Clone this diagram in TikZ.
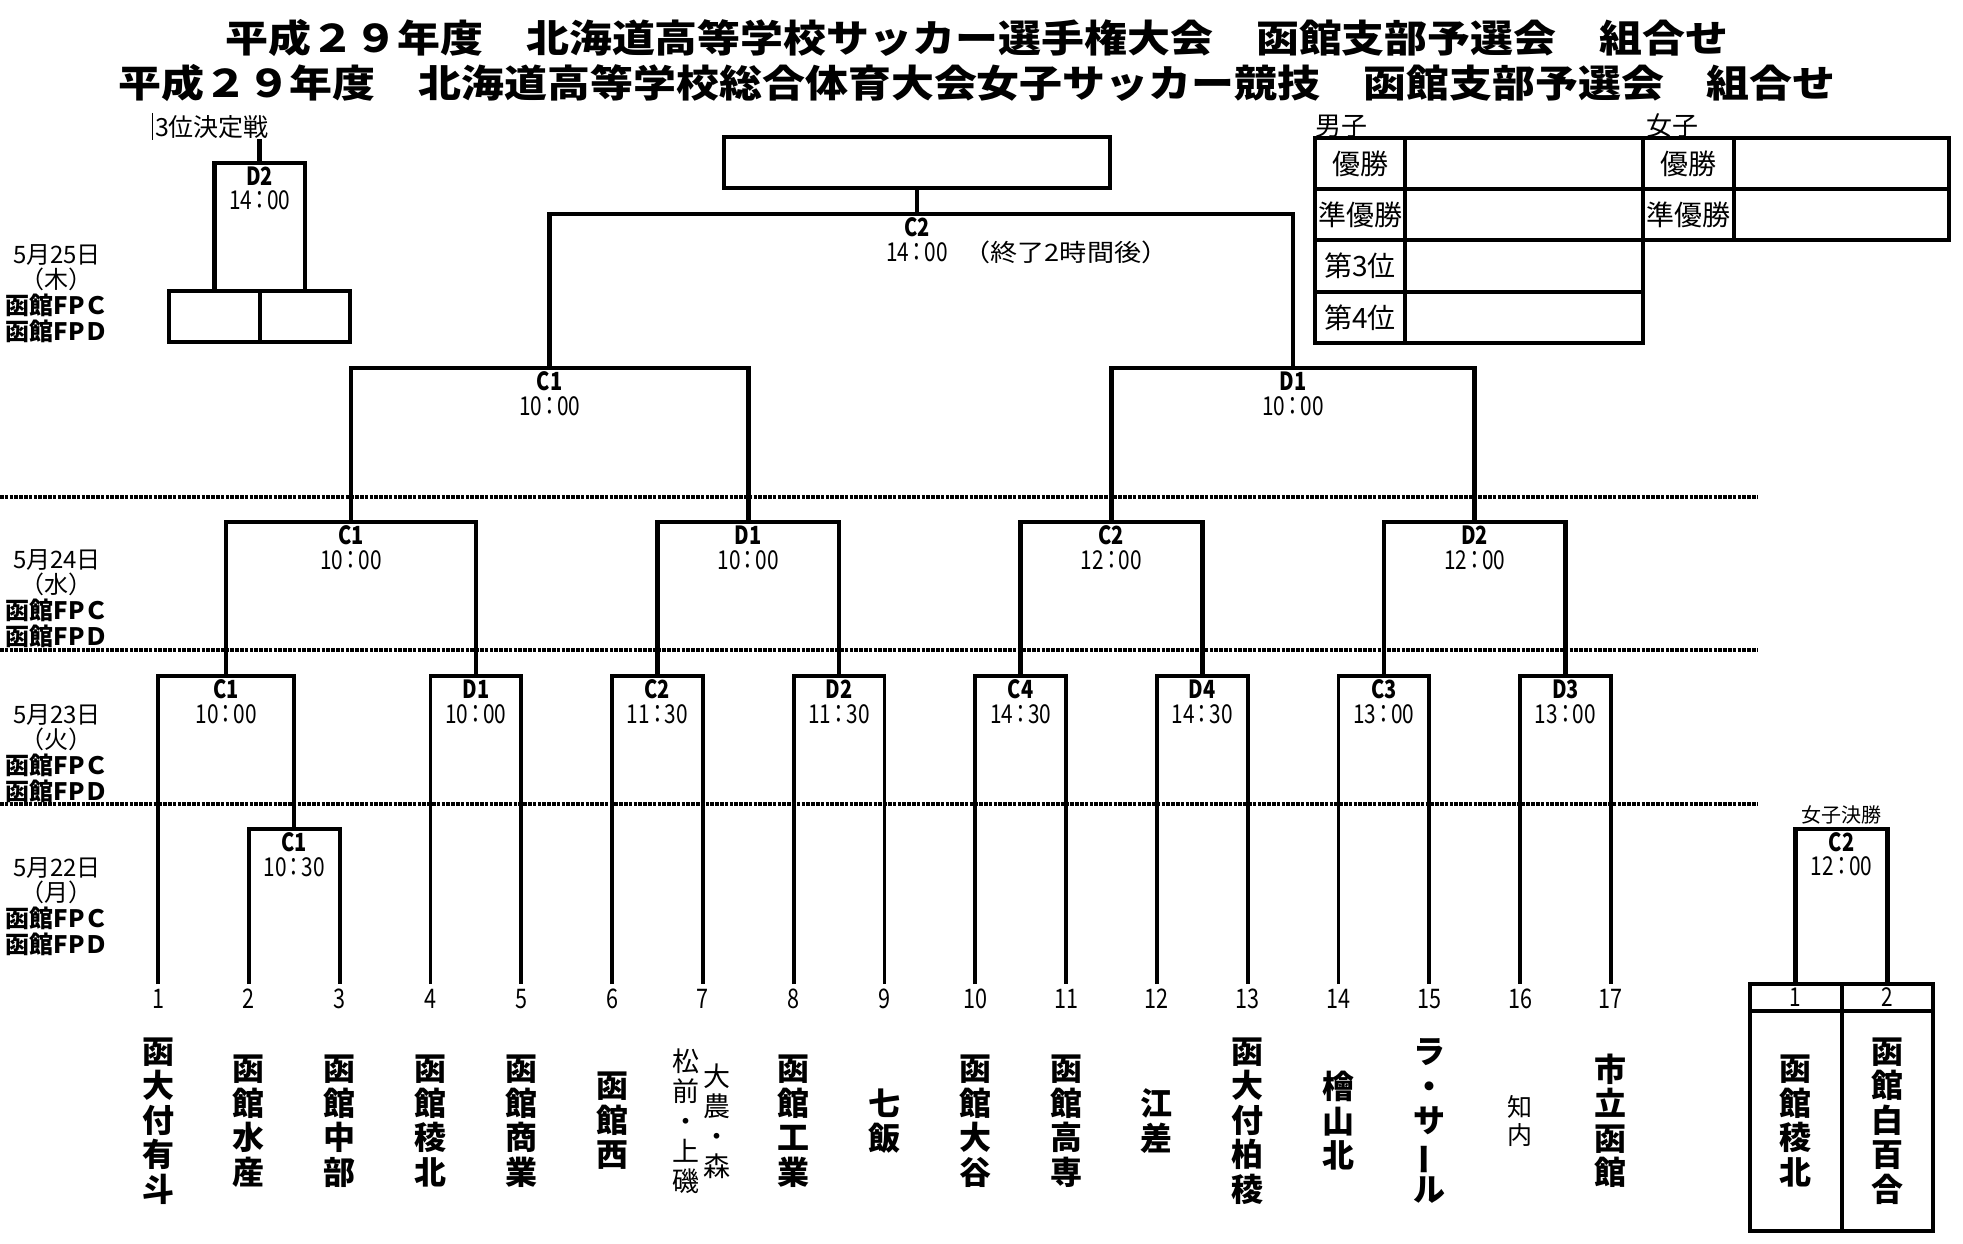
\documentclass[tikz,border=0pt]{standalone}
\usepackage{fontspec}
\setmainfont{Noto Sans CJK JP}
\newfontfamily\narrowjp{Noto Sans CJK JP}[FakeStretch=0.8]
\newfontfamily\widejp{Noto Sans CJK JP}[FakeStretch=1.13]
\usetikzlibrary{positioning,calc}

\newcommand\hm[2]{#1\makebox[15pt]{：}#2}

\tikzset{
  bracket/.style={line width=3.8pt},
  upper/.style={line width=4.6pt},
  dayline/.style={line width=3.2pt, dash pattern=on 3.5pt off 1.3pt},
  codelbl/.style={inner sep=0pt, font=\narrowjp\bfseries\fontsize{25}{27}\selectfont},
  timelbl/.style={inner sep=0pt, font=\narrowjp\fontsize{26}{28}\selectfont},
  numlbl/.style={inner sep=0pt, font=\narrowjp\fontsize{27}{29}\selectfont},
  team/.style={inner sep=0pt, align=center, font=\bfseries\fontsize{32}{34.5}\selectfont},
  teamthin/.style={inner sep=0pt, align=center, font=\fontsize{27}{30}\selectfont},
  daylbl/.style={inner sep=0pt, align=center, font=\fontsize{24}{25.7}\selectfont},
  cell/.style={draw, line width=4pt, inner sep=0pt, font=\fontsize{28}{30}\selectfont},
  small/.style={inner sep=0pt, font=\fontsize{25}{27}\selectfont},
}

\begin{document}
\begin{tikzpicture}[x=1pt,y=-1pt]
    \useasboundingbox (0,0) rectangle (1963,1244);

    % titles
    \node[inner sep=0pt, font=\widejp\bfseries\fontsize{38}{40}\selectfont] (title1) at (977,38)
      {平成２９年度　北海道高等学校サッカー選手権大会　函館支部予選会　組合せ};
    \node[inner sep=0pt, font=\widejp\bfseries\fontsize{38}{40}\selectfont] (title2) at (977,83)
      {平成２９年度　北海道高等学校総合体育大会女子サッカー競技　函館支部予選会　組合せ};

    % days
    \foreach \y in {497,650,804} {
      \draw[dayline] (0,\y) -- (1758,\y);
    }
    \node[daylbl] (day25) at (57,293.5) {5月25日\\（木）\\\textbf{函館FPＣ}\\\textbf{函館FPＤ}};
    \node[daylbl] (day24) at (57,598.5) {5月24日\\（水）\\\textbf{函館FPＣ}\\\textbf{函館FPＤ}};
    \node[daylbl] (day23) at (57,753.5) {5月23日\\（火）\\\textbf{函館FPＣ}\\\textbf{函館FPＤ}};
    \node[daylbl] (day22) at (57,906.5) {5月22日\\（月）\\\textbf{函館FPＣ}\\\textbf{函館FPＤ}};

    % leaves
    \foreach \i in {1,...,17} {
      \pgfmathsetmacro\lx{158+90.8*(\i-1)}
      \coordinate (l\i) at (\lx,984);
      \node[numlbl] (n\i) at (\lx,999) {\i};
    }

    % match points
    \coordinate (v22C1) at (294.2,829);
    \foreach \m/\x in {C1/226.1,D1/475.8,C2/657.4,D2/839.0,C4/1020.6,D4/1202.2,C3/1383.8,D3/1565.4}
      \coordinate (v23\m) at (\x,676);
    \foreach \m/\x in {C1/351.0,D1/748.2,C2/1111.4,D2/1474.6}
      \coordinate (v24\m) at (\x,522);
    \coordinate (v25C1) at (549.6,368);
    \coordinate (v25D1) at (1293.0,368);
    \coordinate (vfin) at (917,214);

    % brackets
    \draw[bracket] (l2) |- (v22C1) -| (l3);
    \foreach \a/\m/\b in {l1/C1/v22C1,l4/D1/l5,l6/C2/l7,l8/D2/l9,l10/C4/l11,l12/D4/l13,l14/C3/l15,l16/D3/l17}
      \draw[bracket] (\a) |- (v23\m) -| (\b);
    \foreach \a/\m/\b in {C1/C1/D1,C2/D1/D2,C4/C2/D4,C3/D2/D3}
      \draw[upper] (v23\a) |- (v24\m) -| (v23\b);
    \draw[upper] (v24C1) |- (v25C1) -| (v24D1);
    \draw[upper] (v24C2) |- (v25D1) -| (v24D2);
    \draw[upper] (v25C1) |- (vfin) -| (v25D1);

    \node[draw, line width=4pt, minimum width=386pt, minimum height=51pt] (champ) at (917,162.5) {};
    \draw[upper] (vfin) -- (champ);

    % match labels
    \foreach \m/\c/\t in {v22C1/C1/\hm{10}{30},v23C1/C1/\hm{10}{00},v23D1/D1/\hm{10}{00},v23C2/C2/\hm{11}{30},
        v23D2/D2/\hm{11}{30},v23C4/C4/\hm{14}{30},v23D4/D4/\hm{14}{30},v23C3/C3/\hm{13}{00},v23D3/D3/\hm{13}{00},
        v24C1/C1/\hm{10}{00},v24D1/D1/\hm{10}{00},v24C2/C2/\hm{12}{00},v24D2/D2/\hm{12}{00},
        v25C1/C1/\hm{10}{00},v25D1/D1/\hm{10}{00},vfin/C2/\hm{14}{00}} {
      \node[codelbl] (\m-c) at ([yshift=-13pt]\m) {\c};
      \node[timelbl] (\m-t) at ([yshift=-38pt]\m) {\t};
    }
    \node[inner sep=0pt, font=\widejp\fontsize{24}{26}\selectfont] (finnote) at (1066,252) {（終了2時間後）};

    % 3rd place
    \node[small] (third) at (212,127) {3位決定戦};
    \draw[line width=1pt] (152,113) -- (152,140);
    \node[cell, minimum width=91pt, minimum height=51pt] (tpL) at (214.5,316.5) {};
    \node[cell, minimum width=90pt, minimum height=51pt] (tpR) at (305,316.5) {};
    \coordinate (tpm) at (259.75,163);
    \draw[upper] (tpL.north) |- (tpm) -| (tpR.north);
    \draw[upper] (tpm) -- (tpm |- third.south);
    \node[codelbl] (tpm-c) at ([yshift=-13pt]tpm) {D2};
    \node[timelbl] (tpm-t) at ([yshift=-37pt]tpm) {\hm{14}{00}};

    % teams
    \coordinate (trow) at (0,1121);
    \foreach \i/\t in {1/函\\大\\付\\有\\斗,2/函\\館\\水\\産,3/函\\館\\中\\部,4/函\\館\\稜\\北,
        5/函\\館\\商\\業,6/函\\館\\西,8/函\\館\\工\\業,9/七\\飯,10/函\\館\\大\\谷,11/函\\館\\高\\専,
        12/江\\差,13/函\\大\\付\\柏\\稜,14/檜\\山\\北,17/市\\立\\函\\館}
      \node[team] (t\i) at (l\i |- trow) {\t};
    \node[teamthin] (t7a) at (686,1121) {松\\前\\・\\上\\磯};
    \node[teamthin] (t7b) at (717,1121) {大\\農\\・\\森};
    \node[team] (t15) at (l15 |- trow) {ラ\\・\\サ\\\rotatebox[origin=c]{90}{ー}\\ル};
    \node[teamthin, font=\fontsize{25}{28}\selectfont] (t16) at (l16 |- trow) {知\\内};

    % girls final
    \node[inner sep=0pt, font=\fontsize{20}{22}\selectfont] (wtitle) at (1841.5,815) {女子決勝};
    \node[cell, minimum width=91.5pt, minimum height=27pt, font=\narrowjp\fontsize{26}{28}\selectfont] (wL) at (1795.75,997.5) {1};
    \node[cell, minimum width=91.5pt, minimum height=27pt, font=\narrowjp\fontsize{26}{28}\selectfont] (wR) at (1887.25,997.5) {2};
    \node[cell, team, minimum width=91.5pt, minimum height=220pt] (wLn) at (1795.75,1121) {函\\館\\稜\\北};
    \node[cell, team, minimum width=91.5pt, minimum height=220pt] (wRn) at (1887.25,1121) {函\\館\\白\\百\\合};
    \coordinate (wm) at (1841.5,829);
    \draw[upper] (wL.north) |- (wm) -| (wR.north);
    \node[codelbl] (wm-c) at ([yshift=-13pt]wm) {C2};
    \node[timelbl] (wm-t) at ([yshift=-37pt]wm) {\hm{12}{00}};

    % results
    \node[inner sep=0pt, anchor=west, font=\fontsize{26}{28}\selectfont] (boys) at (1315,126) {男子};
    \node[inner sep=0pt, anchor=west, font=\fontsize{26}{28}\selectfont] (girls) at (1646,126) {女子};
    \foreach \r/\t in {1/優勝,2/準優勝,3/第3位,4/第4位} {
      \pgfmathsetmacro\ry{163.6+51.25*(\r-1)}
      \node[cell, minimum width=90pt, minimum height=51.25pt] (bk\r) at (1360,\ry) {\t};
      \node[cell, minimum width=238pt, minimum height=51.25pt] (bv\r) at (1524,\ry) {};
    }
    \foreach \r/\t in {1/優勝,2/準優勝} {
      \pgfmathsetmacro\ry{163.6+51.25*(\r-1)}
      \node[cell, minimum width=91pt, minimum height=51.25pt] (gk\r) at (1688.5,\ry) {\t};
      \node[cell, minimum width=215pt, minimum height=51.25pt] (gv\r) at (1841.5,\ry) {};
    }
\end{tikzpicture}
\end{document}
